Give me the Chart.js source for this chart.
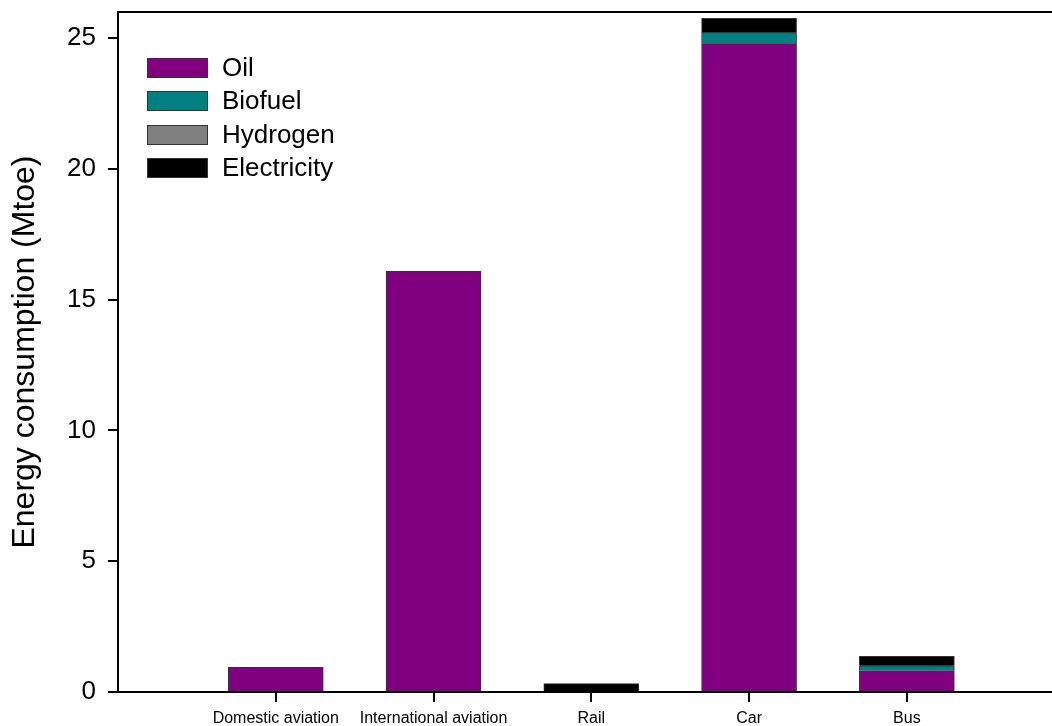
<!DOCTYPE html>
<html>
<head>
<meta charset="utf-8">
<script src="https://cdn.jsdelivr.net/npm/chart.js@4.4.1/dist/chart.umd.min.js"></script>
<style>
    html, body { margin: 0; padding: 0; background: #fff; }
    #wrap { position: relative; width: 1052px; height: 726px; }
    #legend { position: absolute; left: 147px; top: 58px; font-family: "Liberation Sans", Arial, sans-serif; font-size: 26px; color: #000; }
    .item { position: relative; height: 33.3px; }
    .box { position: absolute; left: 0; top: 0; width: 59px; height: 18px; border: 1px solid #333; }
    .lbl { position: absolute; left: 75px; top: -5px; line-height: 28px; white-space: nowrap; }
</style>
</head>
<body>
<div id="wrap">
    <canvas id="chart" width="1052" height="726"></canvas>
    <div id="legend"></div>
</div>
<script>
// =====
// Data
// =====
const categories = ['Domestic aviation', 'International aviation', 'Rail', 'Car', 'Bus'];
const oil = [0.94, 16.08, 0, 24.79, 0.81];
const biofuel = [0, 0, 0, 0.42, 0.19];
const hydrogen = [0, 0, 0, 0, 0];
const electricity = [0, 0, 0.32, 0.55, 0.36];
const yTicks = [0, 5, 10, 15, 20, 25];

const seriesNames = ['Oil', 'Biofuel', 'Hydrogen', 'Electricity'];
const seriesColors = ['#800080', '#008080', '#808080', '#000000'];

const FONT = '"Liberation Sans", Arial, sans-serif';

function toPoints(values) {
    return values.map((v, i) => ({ x: i + 1, y: v }));
}

// no extra padding from tick labels, so the plot area fills the canvas
function noPadding(axis) {
    axis.paddingTop = 0;
    axis.paddingBottom = 0;
    axis.paddingLeft = 0;
    axis.paddingRight = 0;
}

const datasets = [oil, biofuel, hydrogen, electricity].map((values, i) => ({
    label: seriesNames[i],
    data: toPoints(values),
    backgroundColor: seriesColors[i],
    borderColor: '#333333',
    borderWidth: 1,
    barThickness: 95
}));

const ctx = document.getElementById('chart').getContext('2d');
const chart = new Chart(ctx, {
    type: 'bar',
    data: { datasets },
    options: {
        responsive: false,
        animation: false,
        layout: { padding: 0 },
        plugins: {
            legend: { display: false },
            tooltip: { enabled: false }
        },
        scales: {
            x: {
                type: 'linear',
                stacked: true,
                offset: false,
                min: 0,
                max: 5.92,
                afterBuildTicks: axis => {
                    axis.ticks = categories.map((c, i) => ({ value: i + 1 }));
                },
                afterFit: axis => { axis.height = 34; noPadding(axis); },
                ticks: {
                    color: '#000',
                    font: { family: FONT, size: 16 },
                    padding: 7,
                    maxRotation: 0,
                    autoSkip: false,
                    callback: value => categories[value - 1] || ''
                },
                grid: {
                    offset: false,
                    drawOnChartArea: false,
                    tickLength: 10,
                    tickColor: '#000',
                    lineWidth: 2
                },
                border: { display: true, color: '#000', width: 2 }
            },
            x2: {
                position: 'top',
                type: 'linear',
                offset: false,
                min: 0,
                max: 5.92,
                afterFit: axis => { axis.height = 12; noPadding(axis); },
                ticks: { display: false },
                grid: { offset: false, drawOnChartArea: false, drawTicks: false },
                border: { display: true, color: '#000', width: 2 }
            },
            y: {
                stacked: true,
                min: 0,
                max: 26,
                afterBuildTicks: axis => {
                    axis.ticks = yTicks.map(v => ({ value: v }));
                },
                afterFit: axis => { axis.width = 118; noPadding(axis); },
                ticks: {
                    color: '#000',
                    font: { family: FONT, size: 26 },
                    padding: 12
                },
                grid: {
                    drawOnChartArea: false,
                    tickLength: 10,
                    tickColor: '#000',
                    lineWidth: 2
                },
                border: { display: true, color: '#000', width: 2 },
                title: {
                    display: true,
                    text: 'Energy consumption (Mtoe)',
                    color: '#000',
                    font: { family: FONT, size: 32, weight: 'normal' },
                    padding: { top: 6, bottom: 0 }
                }
            }
        }
    }
});

// Legend inside the plot, built from the datasets
const legendEl = document.getElementById('legend');
chart.data.datasets.forEach(ds => {
    const item = document.createElement('div');
    item.className = 'item';
    item.innerHTML = `<div class="box" style="background:${ds.backgroundColor}"></div><div class="lbl">${ds.label}</div>`;
    legendEl.appendChild(item);
});
</script>
</body>
</html>
